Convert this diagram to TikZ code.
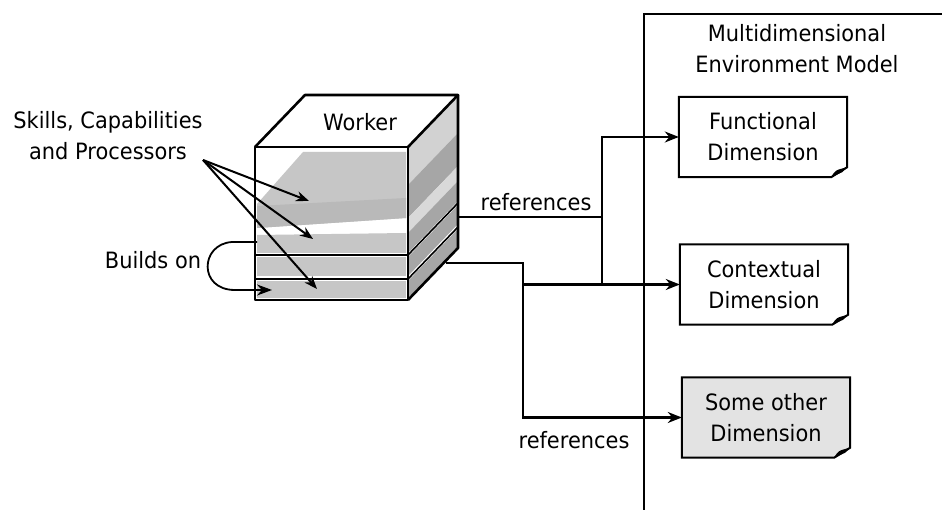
\documentclass[tikz,border=0pt]{standalone}
\usepackage{fontspec}
\setmainfont{DejaVu Sans}[FakeStretch=0.93]
\usetikzlibrary{arrows.meta,calc,backgrounds}

% one band on the slanted right face of the worker block
\newcommand\rfaceband[3]{%
  \fill[#3] (408,#1) -- (458,#1-52) -- (458,#2-52) -- (408,#2) -- cycle;}

\begin{document}
\begin{tikzpicture}[x=1pt,y=-1pt,
  every node/.style={font=\fontsize{22.5}{31}\selectfont, inner sep=0pt},
  conn/.style={line width=2.4pt},
  arr/.style={conn,-{Stealth[length=14pt,width=11pt]}},
  thinarr/.style={line width=2pt,-{Stealth[length=13pt,width=10pt]}},
  cube/.style={line width=2.6pt, line join=round},
  layer/.style={fill=gray!45},
  sidelayer/.style={fill=gray!70},
  dim/.style={minimum width=168pt, minimum height=80pt, align=center},
  note/.style={line width=2pt}]

\useasboundingbox (0,0) rectangle (942,510);

% ---------------- worker block ----------------
\fill[white] (255,147) rectangle (408,300);
% top sheet and layers on the front face
\fill[layer] (303,152) -- (406,152) -- (406,218) -- (257,228) -- (257,204) -- cycle;
\fill[gray!55] (257,206) -- (406,198) -- (406,218) -- (257,228) -- cycle;
\fill[layer] (257,235) -- (406,233) -- (406,253) -- (257,253) -- cycle;
\fill[layer] (257,257) rectangle (406,276);
\fill[layer] (257,281) rectangle (406,298);
\draw[line width=1.8pt] (255,255) -- (408,255);
\draw[line width=1.8pt] (255,279) -- (408,279);
% layers on the right face
\rfaceband{147}{185}{gray!35}
\rfaceband{185}{218}{sidelayer}
\rfaceband{218}{233}{gray!30}
\rfaceband{233}{253}{sidelayer}
\rfaceband{257}{276}{sidelayer}
\rfaceband{281}{300}{sidelayer}
\draw[line width=1.6pt] (408,255) -- (458,203);
\draw[line width=1.6pt] (408,279) -- (458,227);
% block outline
\draw[cube] (255,147) rectangle (408,300);
\draw[cube] (255,147) -- (305,95) -- (458,95) -- (408,147);
\draw[cube] (458,95) -- (458,248) -- (408,300);

\node (worker) at (360,122) {Worker};

% ---------------- labels on the left ----------------
\node[align=center] (skills) at (108,136) {Skills, Capabilities\\and Processors};
\coordinate (sk) at (203,160);
\coordinate (l1) at (309,201);
\coordinate (l2) at (313,239);
\coordinate (l3) at (317,289);
\draw[thinarr] (sk) -- (l1);
\draw[thinarr] (sk) -- (l2);
\draw[thinarr] (sk) -- (l3);

\node (builds) at (153,260) {Builds on};
\coordinate (b1) at (257,242);
\coordinate (b2) at (272,290);
\draw[line width=1.8pt,-{Stealth[length=15pt,width=11pt]}]
  (b1) -- (232,242) .. controls (200,244) and (198,290) .. (235,290) -- (b2);

% ---------------- environment model ----------------
\draw[conn] (942,14) -- (644,14) -- (644,510);
\node[align=center] (envtitle) at (797,49) {Multidimensional\\Environment Model};

\node[dim] (func) at (763,137) {Functional\\Dimension};
\node[dim] (ctx) at (764,284.5) {Contextual\\Dimension};
\node[dim] (other) at (766,417.5) {Some other\\Dimension};

% note outlines with a folded corner
\begin{scope}[on background layer]
\foreach \n/\f in {func/white, ctx/white, other/gray!22} {
  \draw[note, fill=\f] (\n.north west) -- (\n.north east) -- ([yshift=10pt]\n.south east)
    -- ([xshift=-16pt]\n.south east) -- (\n.south west) -- cycle;
  \fill ([xshift=-16pt]\n.south east) .. controls ([xshift=-12pt,yshift=7pt]\n.south east)
    .. ([yshift=10pt]\n.south east) -- ([xshift=-5pt,yshift=5pt]\n.south east) -- cycle;
}
\end{scope}

% ---------------- references ----------------
\coordinate (w1) at (458,217);
\coordinate (w2) at (446,263);
\coordinate (jr) at (602,284.5);
\coordinate (jl) at (523,284.5);
\draw[conn] (w1) -| (jr);
\draw[arr] (w1 -| jr) |- (func.west);
\draw[arr] (w2) -| (jl) -- (ctx.west);
\draw[arr] (jl) |- (other.west);

\node (ref1) at (536,202) {references};
\node (ref2) at (574,440) {references};

\end{tikzpicture}
\end{document}
